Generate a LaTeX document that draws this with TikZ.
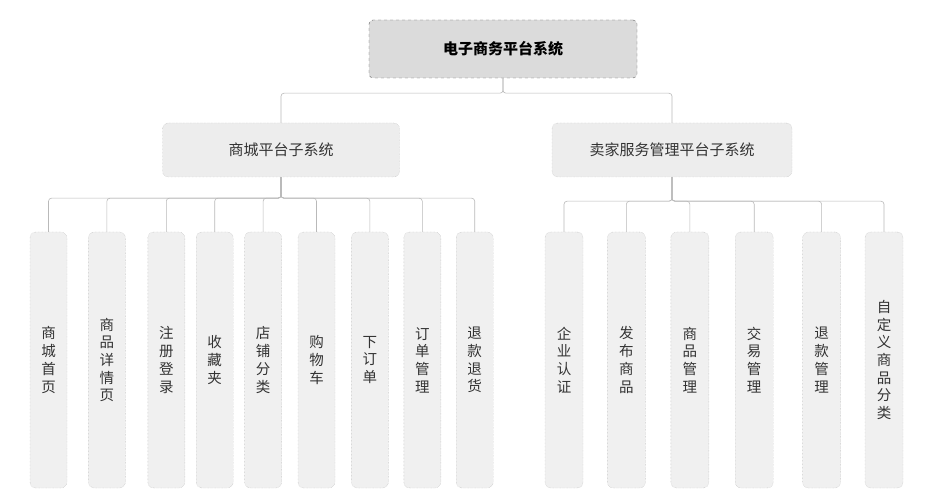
\documentclass[tikz,border=0pt]{standalone}
\usepackage{fontspec}
\newfontfamily\cjk{Noto Sans CJK SC}
\usetikzlibrary{positioning}
\tikzset{
  conn/.style={draw=gray!55, line width=0.6pt, rounded corners=3pt},
  rootbox/.style={draw=gray!75!black, dashed, fill=gray!28, rounded corners=4pt,
    minimum width=268pt, minimum height=58pt, text=black,
    font=\cjk\bfseries\fontsize{15}{18}\selectfont},
  subbox/.style={draw=gray!60, densely dotted, fill=gray!14, rounded corners=6pt,
    minimum height=54pt, text=black!80, font=\cjk\fontsize{15}{18}\selectfont},
  leafbox/.style={draw=gray!60, densely dotted, fill=gray!12, rounded corners=6pt,
    minimum width=37pt, minimum height=256pt, inner sep=0pt, align=center,
    text=black!80, font=\cjk\fontsize{14.5}{17.7}\selectfont},
}
\begin{document}
\begin{tikzpicture}[x=1pt,y=-1pt]
      \useasboundingbox (0,0) rectangle (929,497);
      \node[rootbox] (sys) at (503,49)               {电子商务平台系统};
      \node[subbox, minimum width=237pt] (mall)   at (281,150) {商城平台子系统};
      \node[subbox, minimum width=240pt] (seller) at (672,150) {卖家服务管理平台子系统};

      % mall leaves
      \node[leafbox] (m1) at (48.5,360)          {商\\城\\首\\页};
      \node[leafbox] (m2) [right=21pt of m1]     {商\\品\\详\\情\\页};
      \node[leafbox] (m3) [right=22pt of m2]     {注\\册\\登\\录};
      \node[leafbox] (m4) [right=11pt of m3]     {收\\藏\\夹};
      \node[leafbox] (m5) [right=11pt of m4]     {店\\铺\\分\\类};
      \node[leafbox] (m6) [right=16pt of m5]     {购\\物\\车};
      \node[leafbox] (m7) [right=16pt of m6]     {下\\订\\单};
      \node[leafbox] (m8) [right=15pt of m7]     {订\\单\\管\\理};
      \node[leafbox] (m9) [right=15pt of m8]     {退\\款\\退\\货};

      % seller leaves
      \node[leafbox, minimum width=38pt] (s1) at (564,360)      {企\\业\\认\\证};
      \node[leafbox, minimum width=38pt] (s2) [right=24pt of s1] {发\\布\\商\\品};
      \node[leafbox, minimum width=38pt] (s3) [right=25pt of s2] {商\\品\\管\\理};
      \node[leafbox, minimum width=38pt] (s4) [right=26pt of s3] {交\\易\\管\\理};
      \node[leafbox, minimum width=38pt] (s5) [right=29pt of s4] {退\\款\\管\\理};
      \node[leafbox, minimum width=38pt] (s6) [right=24pt of s5] {自\\定\\义\\商\\品\\分\\类};

      \draw[conn] (sys.south) -- ++(0,15) -| (mall.north);
      \draw[conn] (sys.south) -- ++(0,15) -| (seller.north);
      \foreach \i in {1,...,9}
        \draw[conn] (mall.south) -- ++(0,21) -| (m\i.north);
      \foreach \i in {1,...,6}
        \draw[conn] (seller.south) -- ++(0,24) -| (s\i.north);
\end{tikzpicture}
\end{document}
